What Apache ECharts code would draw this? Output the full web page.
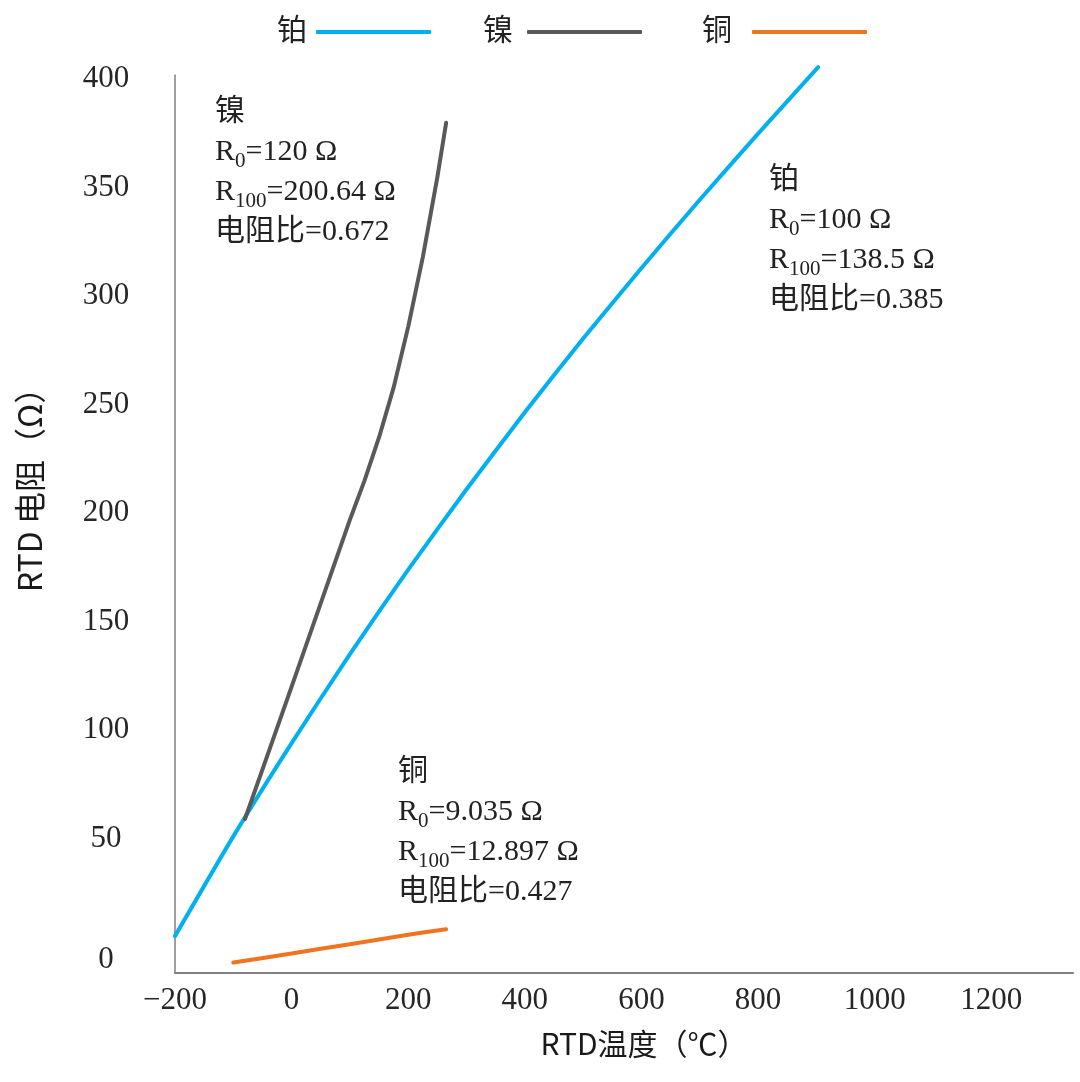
<!DOCTYPE html>
<html>
<head>
<meta charset="utf-8">
<script src="https://cdn.jsdelivr.net/npm/echarts@6/dist/echarts.min.js"></script>
<style>
html,body{margin:0;padding:0;background:#fff;}
#chart{width:1080px;height:1082px;}
</style>
</head>
<body>
<div id="chart"></div>
<script>
// ---- data ----
const seriesNames = ['铂', '镍', '铜'];
const ptTemp = [-200, -100, 0, 100, 200, 300, 400, 500, 600, 700, 800, 903];
const ptRes  = [5, 51, 94, 135, 174, 211, 246.5, 280.5, 313, 344.5, 375, 405.6];
const niTemp = [-80, -40, 0, 50, 100, 125, 150, 175, 200, 225, 250, 265];
const niRes  = [59, 89.5, 120, 158.5, 197, 215, 235, 258, 286, 318, 355, 380];
const cuTemp = [-100, 0, 100, 200, 265];
const cuRes  = [-7.2, -3.0, 1.3, 5.6, 8.2];
const xTicks = [-200, 0, 200, 400, 600, 800, 1000, 1200];
const yTicks = [0, 50, 100, 150, 200, 250, 300, 350, 400];

const pairs = (xs, ys) => xs.map((x, i) => [x, ys[i]]);

const SERIF = '"Liberation Serif","Noto Sans CJK SC",serif';
const SANS = '"Noto Sans CJK SC","Noto Sans",sans-serif';
const colors = ['#00B0F0', '#595959', '#EE7420'];
const gaps = [4, 9, 15];
const legendLefts = [277, 483, 702];

const chart = echarts.init(document.getElementById('chart'));

const subRich = {
  sub: { fontSize: 21, fontFamily: SERIF, verticalAlign: 'bottom', lineHeight: 24, fill: '#222' }
};
function note(left, top, text) {
  return {
    type: 'text', left: left, top: top, z: 10,
    style: {
      text: text, fontSize: 30, fontFamily: SERIF, lineHeight: 40, fill: '#222',
      rich: subRich
    }
  };
}

chart.setOption({
  animation: false,
  backgroundColor: '#fff',
  color: colors,
  legend: seriesNames.map((n, i) => ({
    data: [{ name: n, icon: 'roundRect' }],
    left: legendLefts[i], top: 17, padding: 0,
    align: 'right', itemWidth: 115, itemHeight: 4,
    textStyle: { fontSize: 30, fontFamily: SERIF, color: '#222', padding: [0, gaps[i], 0, 0] }
  })),
  grid: { left: 175, right: 7, top: 75, bottom: 109, containLabel: false },
  xAxis: {
    type: 'value', min: -200, max: 1340,
    name: 'RTD温度（℃）', nameLocation: 'middle', nameGap: 56,
    nameTextStyle: { fontSize: 30, fontFamily: SANS, color: '#1a1a1a', padding: [0, 0, 0, 40] },
    axisLine: { show: true, onZero: false, lineStyle: { color: '#808080', width: 2 } },
    axisTick: { show: false },
    splitLine: { show: false },
    axisLabel: {
      customValues: xTicks, margin: 12,
      fontSize: 31, fontFamily: SERIF, color: '#262626',
      formatter: v => (v < 0 ? '\u2212' + Math.abs(v) : String(v))
    }
  },
  yAxis: {
    type: 'value', min: -12, max: 402,
    name: 'RTD 电阻（Ω）', nameLocation: 'middle', nameGap: 129,
    nameTextStyle: { fontSize: 32, fontFamily: SANS, color: '#1a1a1a', padding: [0, 0, 0, 84] },
    axisLine: { show: true, onZero: false, lineStyle: { color: '#808080', width: 1.5 } },
    axisTick: { show: false },
    splitLine: { show: false },
    axisLabel: {
      customValues: yTicks, margin: 69, align: 'center',
      fontSize: 31, fontFamily: SERIF, color: '#262626',
      formatter: v => (v === 0 ? '{z|0}' : String(v)),
      rich: { z: { fontSize: 31, fontFamily: SERIF, color: '#262626', padding: [26, 0, 0, 0] } }
    }
  },
  series: [
    { name: seriesNames[0], type: 'line', data: pairs(ptTemp, ptRes), smooth: 0.2,
      showSymbol: false, symbol: 'none', clip: false,
      lineStyle: { width: 4, cap: 'round' } },
    { name: seriesNames[1], type: 'line', data: pairs(niTemp, niRes), smooth: false,
      showSymbol: false, symbol: 'none', clip: false,
      lineStyle: { width: 4, cap: 'round', join: 'round' } },
    { name: seriesNames[2], type: 'line', data: pairs(cuTemp, cuRes), smooth: 0.3,
      showSymbol: false, symbol: 'none', clip: false,
      lineStyle: { width: 4, cap: 'round' } }
  ],
  graphic: [
    note(215, 92, '镍\nR{sub|0}=120 Ω\nR{sub|100}=200.64 Ω\n电阻比=0.672'),
    note(769, 160, '铂\nR{sub|0}=100 Ω\nR{sub|100}=138.5 Ω\n电阻比=0.385'),
    note(398, 752, '铜\nR{sub|0}=9.035 Ω\nR{sub|100}=12.897 Ω\n电阻比=0.427')
  ]
});
</script>
</body>
</html>
